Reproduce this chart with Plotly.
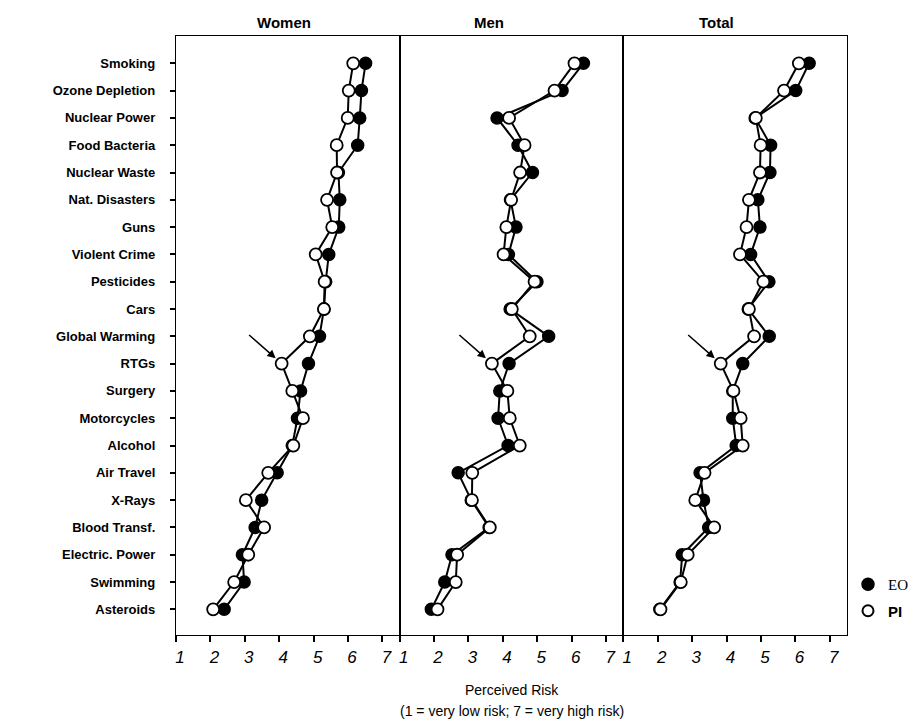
import plotly.graph_objects as go
from plotly.subplots import make_subplots

risks = ["Smoking", "Ozone Depletion", "Nuclear Power", "Food Bacteria", "Nuclear Waste",
         "Nat. Disasters", "Guns", "Violent Crime", "Pesticides", "Cars", "Global Warming",
         "RTGs", "Surgery", "Motorcycles", "Alcohol", "Air Travel", "X-Rays",
         "Blood Transf.", "Electric. Power", "Swimming", "Asteroids"]

panels = ["Women", "Men", "Total"]

women_eo = [6.51, 6.39, 6.34, 6.28, 5.72, 5.76, 5.73, 5.44, 5.35, 5.30, 5.17,
            4.85, 4.62, 4.53, 4.38, 3.94, 3.49, 3.30, 2.93, 2.98, 2.40]
women_pi = [6.15, 6.02, 5.99, 5.67, 5.68, 5.39, 5.54, 5.06, 5.32, 5.30, 4.89,
            4.07, 4.38, 4.69, 4.41, 3.68, 3.03, 3.56, 3.10, 2.69, 2.08]
men_eo = [6.34, 5.72, 3.83, 4.44, 4.86, 4.22, 4.38, 4.16, 4.99, 4.21, 5.33,
          4.18, 3.91, 3.86, 4.15, 2.70, 3.08, 3.60, 2.52, 2.31, 1.92]
men_pi = [6.08, 5.50, 4.18, 4.63, 4.50, 4.24, 4.10, 4.02, 4.92, 4.26, 4.78,
          3.68, 4.13, 4.20, 4.49, 3.11, 3.10, 3.62, 2.67, 2.63, 2.10]
total_eo = [6.40, 6.01, 4.83, 5.28, 5.26, 4.91, 4.97, 4.70, 5.23, 4.63, 5.24,
            4.47, 4.18, 4.18, 4.28, 3.23, 3.33, 3.48, 2.71, 2.65, 2.06]
total_pi = [6.10, 5.67, 4.85, 4.99, 4.97, 4.65, 4.58, 4.39, 5.07, 4.65, 4.80,
            3.83, 4.20, 4.41, 4.47, 3.36, 3.09, 3.64, 2.87, 2.67, 2.08]

x_ticks = [1, 2, 3, 4, 5, 6, 7]
x_range = [1, 7.5]

series = [(women_eo, women_pi), (men_eo, men_pi), (total_eo, total_pi)]

fig = make_subplots(rows=1, cols=3, shared_yaxes=True, horizontal_spacing=0)

for i, (eo, pi) in enumerate(series):
    col = i + 1
    fig.add_trace(go.Scatter(
        x=eo, y=risks, mode="lines+markers", showlegend=False,
        line=dict(color="black", width=2),
        marker=dict(symbol="circle", size=12, color="black",
                    line=dict(color="black", width=1.5))), row=1, col=col)
    fig.add_trace(go.Scatter(
        x=pi, y=risks, mode="lines+markers", showlegend=False,
        line=dict(color="black", width=2),
        marker=dict(symbol="circle", size=12, color="white",
                    line=dict(color="black", width=1.8))), row=1, col=col)
    # arrow pointing at RTGs (PI)
    xr = "x" if i == 0 else f"x{col}"
    fig.add_annotation(x=pi[risks.index("RTGs")], y="RTGs", xref=xr, yref="y",
                       ax=-34, ay=-30, axref="pixel", ayref="pixel",
                       showarrow=True, arrowhead=2, arrowsize=1.1, arrowwidth=1.5,
                       arrowcolor="black", standoff=8, text="")

# legend-only traces
fig.add_trace(go.Scatter(x=[None], y=[None], mode="markers",
                         name='<span style="font-family:Liberation Serif">EO</span>',
                         marker=dict(size=12, color="black", line=dict(color="black", width=1.5)),
                         legendgroup="eo"))
fig.add_trace(go.Scatter(x=[None], y=[None], mode="markers", name="<b>PI</b>",
                         marker=dict(size=11, color="white", line=dict(color="black", width=2)),
                         legendgroup="pi"))

for i in range(3):
    fig.update_xaxes(range=x_range, tickvals=x_ticks, ticks="outside", ticklen=6,
                     tickwidth=1.5, tickcolor="black", showgrid=False, zeroline=False,
                     showline=True, mirror=True, linecolor="black", linewidth=1.3,
                     ticklabelshift=4,
                     tickfont=dict(family="Liberation Sans", size=17, style="italic",
                                   color="black"),
                     row=1, col=i + 1)

fig.update_yaxes(type="category", categoryorder="array", categoryarray=risks,
                 range=[20.94, -1], showgrid=False, zeroline=False,
                 showline=True, mirror=True, linecolor="black", linewidth=1.3)
fig.update_yaxes(ticks="outside", ticklen=5, tickwidth=1.5, tickcolor="black",
                 ticklabelstandoff=12,
                 tickfont=dict(family="Liberation Sans", size=13, weight="bold", color="black"),
                 row=1, col=1)
fig.update_yaxes(showticklabels=False, ticks="", row=1, col=2)
fig.update_yaxes(showticklabels=False, ticks="", row=1, col=3)

L, R = 176, 847
T, B = 36, 635
H = B - T


def ypaper(py):
    return (B - py) / H


def xpaper(px):
    return (px - L) / (R - L)


# panel titles
title_px = [284, 489, 716]
for name, px in zip(panels, title_px):
    fig.add_annotation(text=f"<b>{name}</b>", x=xpaper(px), y=ypaper(22),
                       xref="paper", yref="paper", yanchor="middle", xanchor="center",
                       showarrow=False, font=dict(family="Liberation Sans", size=15, color="black"))

for t, py in [("Perceived Risk", 690), ("(1 = very low risk; 7 = very high risk)", 711)]:
    fig.add_annotation(text=t, x=0.5, y=ypaper(py), xref="paper", yref="paper",
                       xanchor="center", yanchor="middle", showarrow=False,
                       font=dict(family="Liberation Sans", size=14, color="black"))

fig.update_layout(
    width=916, height=722,
    margin=dict(l=L, r=916 - R, t=T, b=722 - B, autoexpand=False),
    plot_bgcolor="white", paper_bgcolor="white",
    showlegend=True,
    legend=dict(x=xpaper(848), y=ypaper(568), xanchor="left", yanchor="top",
                font=dict(family="Liberation Sans", size=15, color="black"),
                tracegroupgap=4, itemwidth=30, bgcolor="rgba(0,0,0,0)"),
)

fig.write_html("out.html")
